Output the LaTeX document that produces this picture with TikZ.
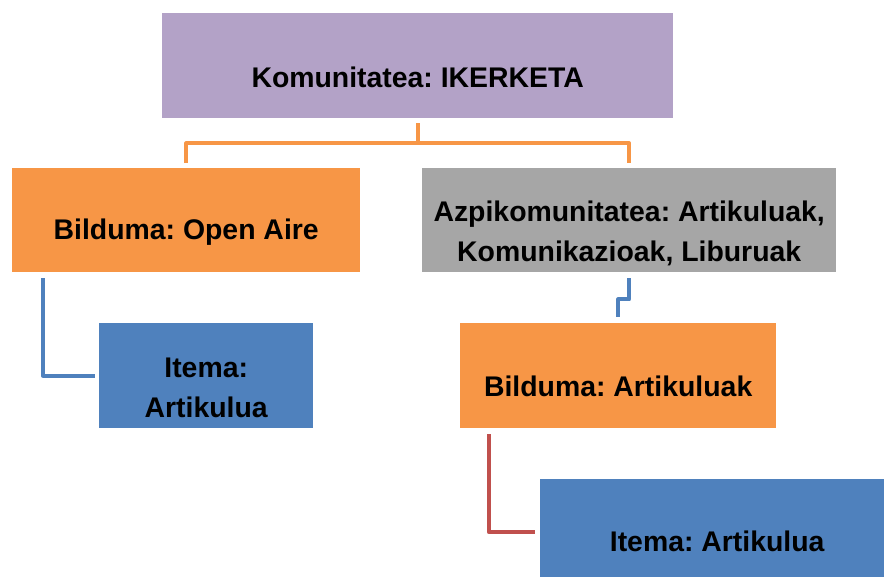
\documentclass[tikz,border=0pt]{standalone}
\usepackage{fontspec}
\setmainfont{Liberation Sans}
\frenchspacing
\begin{document}
\begin{tikzpicture}[x=1pt,y=-1pt,
  box/.style={draw=none,inner sep=0pt,anchor=north west},
  lbl/.style={font=\bfseries\fontsize{28.4}{40}\selectfont,align=center,inner sep=0pt},
  conn/.style={line width=4pt,line join=round}]
\useasboundingbox (0,0) rectangle (884,576);
\definecolor{cpurple}{HTML}{B3A2C7}
\definecolor{corange}{HTML}{F79646}
\definecolor{cgray}{HTML}{A6A6A6}
\definecolor{cblue}{HTML}{4F81BD}
\definecolor{cred}{HTML}{C0504D}
% boxes
\node[box,fill=cpurple,minimum width=511pt,minimum height=105pt] (top) at (162,13) {};
\node[box,fill=corange,minimum width=348pt,minimum height=104pt] (b1) at (12,168) {};
\node[box,fill=cgray,minimum width=414pt,minimum height=104pt] (g) at (422,168) {};
\node[box,fill=cblue,minimum width=214pt,minimum height=105pt] (b3) at (99,323) {};
\node[box,fill=corange,minimum width=316pt,minimum height=105pt] (o2) at (460,323) {};
\node[box,fill=cblue,minimum width=354pt,minimum height=100pt] (b4) at (540,479) {};
% labels
\node[lbl] (ttop) at ([yshift=-12]top.center) {Komunitatea: IKERKETA};
\node[lbl] (tb1) at ([yshift=-12]b1.center) {Bilduma: Open Aire};
\node[lbl] (tg) at ([yshift=-13]g.center) {Azpikomunitatea: Artikuluak,\\Komunikazioak, Liburuak};
\node[lbl] (tb3) at ([yshift=-12]b3.center) {Itema:\\Artikulua};
\node[lbl] (to2) at ([yshift=-11]o2.center) {Bilduma: Artikuluak};
\node[lbl] (tb4) at ([yshift=-12]b4.center) {Itema: Artikulua};
% connectors
\draw[conn,corange] ([yshift=-5]top.south) -- ++(0,20) coordinate (mid);
\draw[conn,corange] ([yshift=5]b1.north) |- (mid) -| ([yshift=5]g.north);
\draw[conn,cblue] ([xshift=31,yshift=-6]b1.south west) |- ([xshift=-4]b3.west);
\draw[conn,cblue] ([yshift=-6]g.south) -- ++(0,21) -| ([yshift=6]o2.north);
\draw[conn,cred] ([xshift=29,yshift=-6]o2.south west) |- ([xshift=-5,yshift=-3]b4.west);
\end{tikzpicture}
\end{document}
